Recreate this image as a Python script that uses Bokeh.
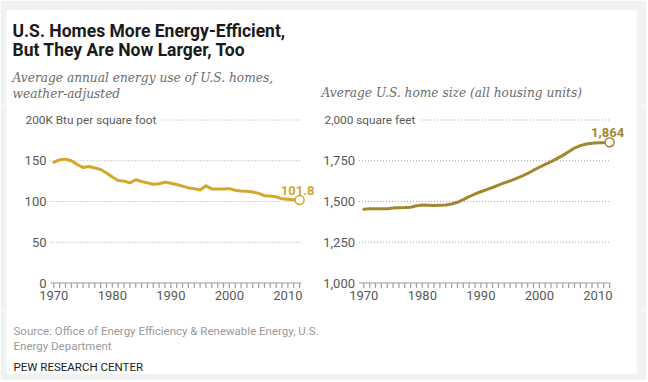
from bokeh.plotting import figure
from bokeh.layouts import row, column
from bokeh.models import Label, Range1d
from bokeh.embed import file_html
from bokeh.resources import INLINE

# ---------------- data ----------------
years = list(range(1970, 2013))
energy_use = [148.3, 151.2, 152.0, 150.0, 145.4, 141.7, 142.9, 141.2, 139.2, 135.0,
              130.0, 125.8, 125.0, 122.9, 126.7, 124.6, 122.9, 121.2, 121.7, 123.8,
              122.3, 120.8, 118.8, 116.7, 115.8, 114.2, 119.2, 115.4, 115.4, 115.4,
              115.8, 113.8, 112.9, 112.5, 111.7, 110.0, 107.1, 106.7, 105.8, 103.3,
              102.9, 102.2, 101.8]
home_size = [1452, 1455, 1455, 1455, 1455, 1460, 1462, 1463, 1465, 1474,
             1478, 1477, 1476, 1477, 1478, 1485, 1495, 1512, 1530, 1546,
             1560, 1573, 1586, 1600, 1614, 1627, 1640, 1655, 1672, 1692,
             1710, 1728, 1745, 1763, 1783, 1805, 1828, 1843, 1853, 1858,
             1860, 1861, 1864]
x_ticks = [1970, 1980, 1990, 2000, 2010]
x_tick_labels = ["1970", "1980", "1990", "2000", "2010"]
energy_ticks = [0, 50, 100, 150, 200]
energy_tick_labels = ["0", "50", "100", "150", "200K Btu per square foot"]
size_ticks = [1000, 1250, 1500, 1750, 2000]
size_tick_labels = ["1,000", "1,250", "1,500", "1,750", "2,000 square feet"]
energy_last_label = "101.8"
size_last_label = "1,864"
title_lines = ["U.S. Homes More Energy-Efficient,", "But They Are Now Larger, Too"]
energy_subtitle = ["Average annual energy use of U.S. homes,", "weather-adjusted"]
size_subtitle = "Average U.S. home size (all housing units)"
source_lines = ["Source: Office of Energy Efficiency & Renewable Energy, U.S.",
                "Energy Department"]
credit = "PEW RESEARCH CENTER"

# ---------------- style / layout ----------------
SANS = "Roboto"
SERIF = "DejaVu Serif"
TICK_COLOR = "#595959"
SUB_COLOR = "#6b6b6b"
ENERGY_COLOR = "#D2A72C"
SIZE_COLOR = "#A2862F"
PAGE_BG = "#f0f1f1"
AXIS_COLOR = "#a0a0a0"
W = 646
HEAD_H, PANEL_H, FOOT_H = 105, 205, 70
CARD_L, CARD_R, CARD_T, CARD_B = 6, 636, 10, 373
PPY = 5.852           # pixels per year
AXIS_Y = 282.5        # page y of the x axis
TOP_Y = 119.5         # page y of the top gridline
TICK_LEN = 5          # px
PANEL_TOP = HEAD_H
PANEL_BOTTOM = HEAD_H + PANEL_H


def style(f):
    f.outline_line_color = None
    f.xgrid.visible = False
    f.ygrid.visible = False
    f.border_fill_color = PAGE_BG
    f.background_fill_color = "white"


def text_fig(top, height, border_top, border_bottom):
    f = figure(width=W, height=height, output_backend="svg", toolbar_location=None,
               x_range=Range1d(CARD_L, CARD_R),
               y_range=Range1d(top + height - border_bottom, top + border_top),
               x_axis_location=None, y_axis_location=None,
               min_border_left=CARD_L, min_border_right=W - CARD_R,
               min_border_top=border_top, min_border_bottom=border_bottom)
    style(f)
    return f


def add_text(f, x, y, text, font, size, color, fstyle="normal"):
    f.add_layout(Label(x=x, y=y, text=text, text_font=font, text_font_size=size,
                       text_color=color, text_font_style=fstyle, text_align="left",
                       text_baseline="alphabetic"))


def panel(fig_left, fig_width, frame_left, frame_right, x1970_px, tick_right_px,
          top_left_px, grid_end_px, ticks, tick_labels, color, values, last_label):
    x_start = 1970 - (x1970_px - frame_left) / PPY
    x_end = 1970 + (frame_right - x1970_px) / PPY
    grid_x0 = 1970 - (x1970_px - tick_right_px - 4) / PPY
    grid_x1 = 1970 + (grid_end_px - x1970_px) / PPY
    upp = (ticks[-1] - ticks[0]) / (AXIS_Y - TOP_Y)     # units per pixel
    y_end = ticks[-1] + (TOP_Y - PANEL_TOP) * upp
    y_start = ticks[0] - (PANEL_BOTTOM - AXIS_Y) * upp

    p = figure(width=fig_width, height=PANEL_H, output_backend="svg", toolbar_location=None,
               x_range=Range1d(x_start, x_end), y_range=Range1d(y_start, y_end),
               x_axis_location=None, y_axis_location=None,
               min_border_left=frame_left - fig_left,
               min_border_right=fig_left + fig_width - frame_right,
               min_border_top=0, min_border_bottom=0)
    style(p)

    # dotted gridlines at the y ticks
    gy = ticks[1:]
    p.segment(x0=[grid_x0] * len(gy), x1=[grid_x1] * len(gy), y0=gy, y1=gy,
              line_color="#a8a8a8", line_dash="1 2", line_width=1)
    # baseline and one tick per year below it
    base_y = [ticks[0]] * len(years)
    tick_y = [ticks[0] - TICK_LEN * upp] * len(years)
    p.segment(x0=years, x1=years, y0=base_y, y1=tick_y,
              line_color=AXIS_COLOR, line_width=1.2)
    p.line(x=[grid_x0, grid_x1], y=[ticks[0], ticks[0]],
           line_color=AXIS_COLOR, line_width=1.2)

    # x tick labels
    for t, lab in zip(x_ticks, x_tick_labels):
        p.add_layout(Label(x=t, y=ticks[0], y_offset=-(TICK_LEN + 3), text=lab,
                           text_font=SANS, text_font_size="13px", text_color=TICK_COLOR,
                           text_align="center", text_baseline="top"))

    # y tick labels
    for t, lab in zip(ticks[:-1], tick_labels[:-1]):
        p.add_layout(Label(x=grid_x0, y=t, x_offset=-4, text=lab, text_font=SANS,
                           text_font_size="13px", text_color=TICK_COLOR,
                           text_align="right", text_baseline="middle"))
    p.add_layout(Label(x=grid_x0, y=ticks[-1], x_offset=top_left_px - (tick_right_px + 4) - 4,
                       text=tick_labels[-1], text_font=SANS, text_font_size="11.8px",
                       text_color=TICK_COLOR, text_align="left", text_baseline="middle",
                       background_fill_color="white", padding=4))

    p.line(years, values, line_width=3, line_color=color, line_join="round", line_cap="round")
    p.scatter([years[-1]], [values[-1]], size=9, fill_color="white",
              line_color=color, line_width=1.5)
    p.add_layout(Label(x=years[-1], y=values[-1], y_offset=10, x_offset=-2,
                       text=last_label, text_font=SANS, text_font_style="bold",
                       text_font_size="13px", text_color=color,
                       text_align="center", text_baseline="alphabetic"))
    return p


left = panel(0, 322, CARD_L, 322, 53.3, 46, 25, 301, energy_ticks, energy_tick_labels,
             ENERGY_COLOR, energy_use, energy_last_label)
right = panel(322, W - 322, 322, CARD_R, 363.3, 354.5, 324, 610, size_ticks,
              size_tick_labels, SIZE_COLOR, home_size, size_last_label)

header = text_fig(0, HEAD_H, CARD_T, 0)
add_text(header, 12, 30, title_lines[0], SANS, "17.5px", "#1a1a1a", "bold")
add_text(header, 12, 49.5, title_lines[1], SANS, "17.5px", "#1a1a1a", "bold")
add_text(header, 12, 77, energy_subtitle[0], SERIF, "12.2px", SUB_COLOR, "italic")
add_text(header, 12, 93.5, energy_subtitle[1], SERIF, "12.2px", SUB_COLOR, "italic")
add_text(header, 321, 92, size_subtitle, SERIF, "12.2px", SUB_COLOR, "italic")

footer = text_fig(PANEL_BOTTOM, FOOT_H, 0, PANEL_BOTTOM + FOOT_H - CARD_B)
add_text(footer, 13, 330, source_lines[0], SANS, "11.5px", "#9a9a9a")
add_text(footer, 13, 345, source_lines[1], SANS, "11.5px", "#9a9a9a")
add_text(footer, 13, 366.5, credit, SANS, "11.5px", "#222222")

layout = column(header, row(left, right, spacing=0), footer, spacing=0)
open("out.html", "w").write(file_html(layout, INLINE))
